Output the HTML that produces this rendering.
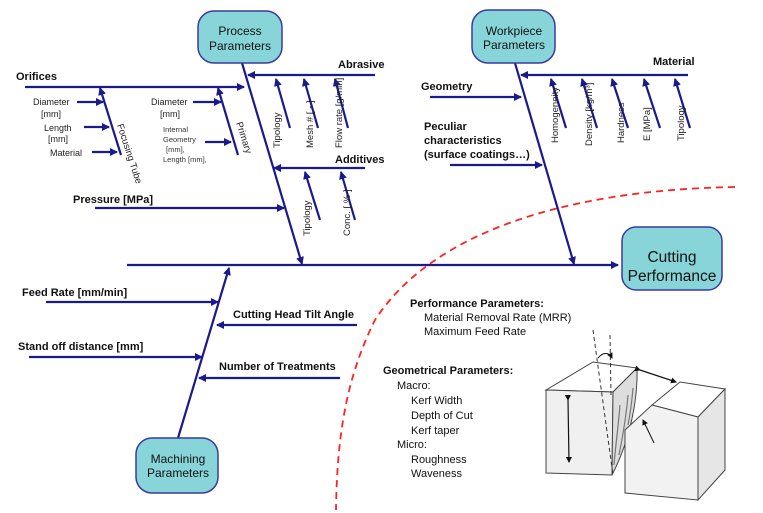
<!DOCTYPE html>
<html><head><meta charset="utf-8"><style>
body{margin:0;background:#fff}
svg{display:block;font-family:"Liberation Sans",sans-serif}
.b{font-weight:bold;font-size:11px;fill:#111}
.s{font-size:9px;fill:#222}
.r{font-size:9.5px;fill:#222}
.t{font-size:11px;fill:#111}
</style></head><body>
<svg width="763" height="513" viewBox="0 0 763 513">
<defs>
<marker id="a" markerWidth="8" markerHeight="8" refX="7" refY="4" orient="auto" markerUnits="userSpaceOnUse">
<path d="M0,0 L8,4 L0,8 Z" fill="#1a1a8c"/></marker>
<marker id="k" markerWidth="6" markerHeight="6" refX="5" refY="3" orient="auto" markerUnits="userSpaceOnUse">
<path d="M0,0 L6,3 L0,6 Z" fill="#111"/></marker>
</defs>
<g stroke="#1a1a8c" stroke-width="2.2" fill="none" marker-end="url(#a)">
<line x1="127" y1="265" x2="618" y2="265"/>
<line x1="242" y1="63" x2="302" y2="264"/>
<line x1="25" y1="87" x2="244" y2="87"/>
<line x1="121" y1="155" x2="100" y2="88"/>
<line x1="77" y1="102" x2="103" y2="102"/>
<line x1="84" y1="127" x2="109" y2="127"/>
<line x1="92" y1="152" x2="117" y2="152"/>
<line x1="238" y1="155" x2="218" y2="88"/>
<line x1="193" y1="102" x2="221" y2="102"/>
<line x1="205" y1="142" x2="231" y2="142"/>
<line x1="375" y1="75" x2="248" y2="75"/>
<line x1="290" y1="128" x2="276" y2="79"/>
<line x1="318" y1="128" x2="304" y2="79"/>
<line x1="348" y1="128" x2="335" y2="79"/>
<line x1="365" y1="168" x2="274" y2="168"/>
<line x1="320" y1="220" x2="305" y2="172"/>
<line x1="355" y1="220" x2="341" y2="172"/>
<line x1="95" y1="208" x2="284" y2="208"/>
<line x1="515" y1="63" x2="574" y2="264"/>
<line x1="688" y1="75" x2="521" y2="75"/>
<line x1="566" y1="128" x2="551" y2="79"/>
<line x1="597" y1="128" x2="582" y2="79"/>
<line x1="628" y1="128" x2="612" y2="79"/>
<line x1="660" y1="128" x2="644" y2="79"/>
<line x1="690" y1="128" x2="675" y2="79"/>
<line x1="430" y1="97" x2="521" y2="97"/>
<line x1="450" y1="165" x2="542" y2="165"/>
<line x1="178" y1="438" x2="229" y2="268"/>
<line x1="46" y1="302" x2="218" y2="302"/>
<line x1="357" y1="325" x2="217" y2="325"/>
<line x1="29" y1="357" x2="202" y2="357"/>
<line x1="340" y1="378" x2="199" y2="378"/>
</g>
<path d="M735,187 C560,190 430,235 375,320 C345,380 337,440 336,510" fill="none" stroke="#f22" stroke-width="1.8" stroke-dasharray="7,5"/>
<g fill="#87d5d8" stroke="#3a3aa0" stroke-width="1.5">
<rect x="198" y="11" width="84" height="52" rx="16"/>
<rect x="472" y="10" width="83" height="53" rx="16"/>
<rect x="622" y="227" width="100" height="63" rx="14"/>
<rect x="136" y="438" width="82" height="55" rx="16"/>
</g>
<g text-anchor="middle" fill="#111" font-size="12">
<text x="240" y="35">Process</text><text x="240" y="50">Parameters</text>
<text x="514" y="35">Workpiece</text><text x="514" y="49">Parameters</text>
<text x="672" y="262" font-size="15.5">Cutting</text><text x="672" y="281" font-size="15.5">Performance</text>
<text x="178" y="463">Machining</text><text x="178" y="477">Parameters</text>
</g>
<text class="b" x="16" y="80">Orifices</text>
<text class="b" x="338" y="68">Abrasive</text>
<text class="b" x="335" y="163">Additives</text>
<text class="b" x="73" y="203">Pressure [MPa]</text>
<text class="b" x="653" y="65">Material</text>
<text class="b" x="421" y="90">Geometry</text>
<text class="b" x="424" y="130">Peculiar</text>
<text class="b" x="424" y="144">characteristics</text>
<text class="b" x="424" y="158">(surface coatings…)</text>
<text class="b" x="22" y="296">Feed Rate [mm/min]</text>
<text class="b" x="233" y="318">Cutting Head Tilt Angle</text>
<text class="b" x="18" y="350">Stand off distance [mm]</text>
<text class="b" x="219" y="370">Number of Treatments</text>
<text class="s" x="33" y="105">Diameter</text><text class="s" x="41" y="117">[mm]</text>
<text class="s" x="44" y="131">Length</text><text class="s" x="48" y="142">[mm]</text>
<text class="s" x="50" y="156">Material</text>
<text class="s" x="151" y="105">Diameter</text><text class="s" x="160" y="117">[mm]</text>
<text x="163" y="132" font-size="7.5" fill="#333">Internal</text>
<text x="163" y="142" font-size="7.5" fill="#333">Geometry</text>
<text x="166" y="152" font-size="7.5" fill="#333">[mm],</text>
<text x="163" y="162" font-size="7.5" fill="#333">Length [mm],</text>
<text class="r" transform="translate(117,125) rotate(72)">Focusing Tube</text>
<text class="r" transform="translate(236,123) rotate(72)">Primary</text>
<text class="r" transform="translate(280,148) rotate(-90)">Tipology</text>
<text class="r" transform="translate(313,148) rotate(-90)">Mesh # [ - ]</text>
<text class="r" transform="translate(342,148) rotate(-90)">Flow rate [g/min]</text>
<text class="r" transform="translate(310,236) rotate(-90)">Tipology</text>
<text class="r" transform="translate(350,236) rotate(-90)">Conc. [ % ]</text>
<text class="r" transform="translate(558,143) rotate(-90)">Homogeneity</text>
<text class="r" transform="translate(592,146) rotate(-90)">Density [kg/m³]</text>
<text class="r" transform="translate(624,143) rotate(-90)">Hardness</text>
<text class="r" transform="translate(650,141) rotate(-90)">E [MPa]</text>
<text class="r" transform="translate(684,141) rotate(-90)">Tipology</text>
<text class="b" x="410" y="307" font-size="11.5">Performance Parameters:</text>
<text class="t" x="424" y="321">Material Removal Rate (MRR)</text>
<text class="t" x="424" y="335">Maximum Feed Rate</text>
<text class="b" x="383" y="374" font-size="11.5">Geometrical Parameters:</text>
<text class="t" x="397" y="389">Macro:</text>
<text class="t" x="411" y="404">Kerf Width</text>
<text class="t" x="411" y="419">Depth of Cut</text>
<text class="t" x="411" y="434">Kerf  taper</text>
<text class="t" x="397" y="448">Micro:</text>
<text class="t" x="411" y="463">Roughness</text>
<text class="t" x="411" y="477">Waveness</text>
<g stroke="#444" stroke-width="1" fill="#fff">
<path d="M546,390 L593,362 L637,368 L613,392 Z"/>
<path d="M546,390 L613,392 L612,475 L546,473 Z" fill="#f0f0f0"/>
<path d="M613,392 L637,368 C638,400 630,440 612,475 Z" fill="#ddd"/>
<path d="M652,405 L680,382 L725,389 L698,417 Z"/>
<path d="M652,405 L698,417 L698,500 L625,493 L625,430 Z" fill="#f2f2f2"/>
<path d="M698,417 L725,389 L725,470 L698,500 Z" fill="#e6e6e6"/>
</g>
<g stroke="#777" stroke-width="1.2" fill="none">
<path d="M620,405 C618,430 615,450 614,465"/>
<path d="M628,395 C626,420 622,440 619,455"/>
<path d="M633,388 C632,400 630,415 628,425"/>
</g>
<g stroke="#333" stroke-width="1" stroke-dasharray="4,3" fill="none">
<line x1="593" y1="330" x2="613" y2="475"/>
<line x1="610" y1="335" x2="611" y2="395"/>
</g>
<path d="M598,358 C603,352 609,352 612,358" stroke="#111" fill="none" marker-end="url(#k)"/>
<line x1="568" y1="400" x2="569" y2="462" stroke="#111" stroke-width="1.2" marker-end="url(#k)" marker-start="url(#k)"/>
<line x1="640" y1="370" x2="676" y2="382" stroke="#111" stroke-width="1.2" marker-end="url(#k)" marker-start="url(#k)"/>
<line x1="654" y1="443" x2="643" y2="420" stroke="#111" stroke-width="1" marker-end="url(#k)"/>
</svg>
</body></html>
